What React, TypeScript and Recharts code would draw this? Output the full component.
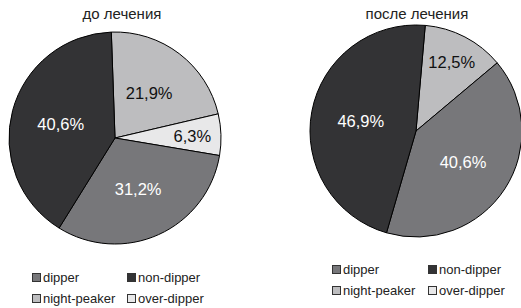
import React from 'react';
import { PieChart, Pie, Cell } from 'recharts';

// slice order on the pies (clockwise from the top)
const sliceNames = ['night-peaker', 'over-dipper', 'dipper', 'non-dipper'];
const beforeValues = [21.9, 6.3, 31.2, 40.6];
const afterValues = [12.5, 0, 40.6, 46.9];

// legend order
const legendNames = ['dipper', 'non-dipper', 'night-peaker', 'over-dipper'];

const titles = ['до лечения', 'после лечения'];

const colors: Record<string, string> = {
  'dipper': '#77777a',
  'non-dipper': '#333335',
  'night-peaker': '#bdbdbf',
  'over-dipper': '#e8e8e9',
};
const labelColors: Record<string, string> = {
  'dipper': '#ffffff',
  'non-dipper': '#ffffff',
  'night-peaker': '#111111',
  'over-dipper': '#111111',
};

const FONT = '"Liberation Sans", Arial, Helvetica, sans-serif';
const RADIAN = Math.PI / 180;

const toRows = (values: number[]) =>
  sliceNames
    .map((name, i) => ({ name, value: values[i] }))
    .filter((d) => d.value > 0);

const beforeData = toRows(beforeValues);
const afterData = toRows(afterValues);

const renderLabel = (props: any) => {
  const { cx, cy, midAngle, outerRadius, value, payload } = props;
  const small = value < 15;
  const r = outerRadius * (small ? 0.73 : 0.53);
  const x = cx + r * Math.cos(-midAngle * RADIAN);
  const y = cy + r * Math.sin(-midAngle * RADIAN);
  const name = payload?.name ?? props.name;
  return (
    <text
      x={x}
      y={y}
      fill={labelColors[name]}
      textAnchor="middle"
      dominantBaseline="central"
      fontSize={16.5}
      fontFamily={FONT}
    >
      {String(value).replace('.', ',') + '%'}
    </text>
  );
};

const Legend: React.FC<{ left: number; top: number; colGap: number }> = ({ left, top, colGap }) => (
  <div style={{ position: 'absolute', left, top, fontFamily: FONT, fontSize: 13, color: '#222' }}>
    {legendNames.map((name, i) => (
      <div
        key={name}
        style={{
          position: 'absolute',
          left: (i % 2) * colGap,
          top: Math.floor(i / 2) * 21,
          display: 'flex',
          alignItems: 'center',
          whiteSpace: 'nowrap',
          height: 16,
        }}
      >
        <span
          style={{
            display: 'inline-block',
            width: 7,
            height: 7,
            border: '1px solid #333',
            background: colors[name],
            marginRight: 2,
          }}
        />
        <span>{name}</span>
      </div>
    ))}
  </div>
);

const titleStyle: React.CSSProperties = {
  position: 'absolute',
  width: 200,
  top: 5,
  textAlign: 'center',
  fontFamily: FONT,
  fontSize: 15,
  color: '#222',
  whiteSpace: 'nowrap',
};

const App: React.FC = () => {
  return (
    <div style={{ position: 'absolute', left: 0, top: 0, width: 521, height: 308, background: '#fff', overflow: 'hidden' }}>
      <div style={{ ...titleStyle, left: 22 }}>{titles[0]}</div>
      <div style={{ ...titleStyle, left: 317 }}>{titles[1]}</div>
      <PieChart
        width={521}
        height={308}
        margin={{ top: 0, right: 0, bottom: 0, left: 0 }}
        style={{ position: 'absolute', left: 0, top: 0 }}
      >
        <Pie
          data={beforeData}
          dataKey="value"
          nameKey="name"
          cx={115}
          cy={138}
          outerRadius={106}
          startAngle={92}
          endAngle={-268}
          stroke="#000"
          strokeWidth={1}
          label={renderLabel}
          labelLine={false}
          isAnimationActive={false}
        >
          {beforeData.map((d) => (
            <Cell key={d.name} fill={colors[d.name]} />
          ))}
        </Pie>
        <Pie
          data={afterData}
          dataKey="value"
          nameKey="name"
          cx={416}
          cy={131}
          outerRadius={106}
          startAngle={85}
          endAngle={-275}
          stroke="#000"
          strokeWidth={1}
          label={renderLabel}
          labelLine={false}
          isAnimationActive={false}
        >
          {afterData.map((d) => (
            <Cell key={d.name} fill={colors[d.name]} />
          ))}
        </Pie>
      </PieChart>
      <Legend left={32} top={269} colGap={95} />
      <Legend left={332} top={261} colGap={96} />
    </div>
  );
};

export default App;
